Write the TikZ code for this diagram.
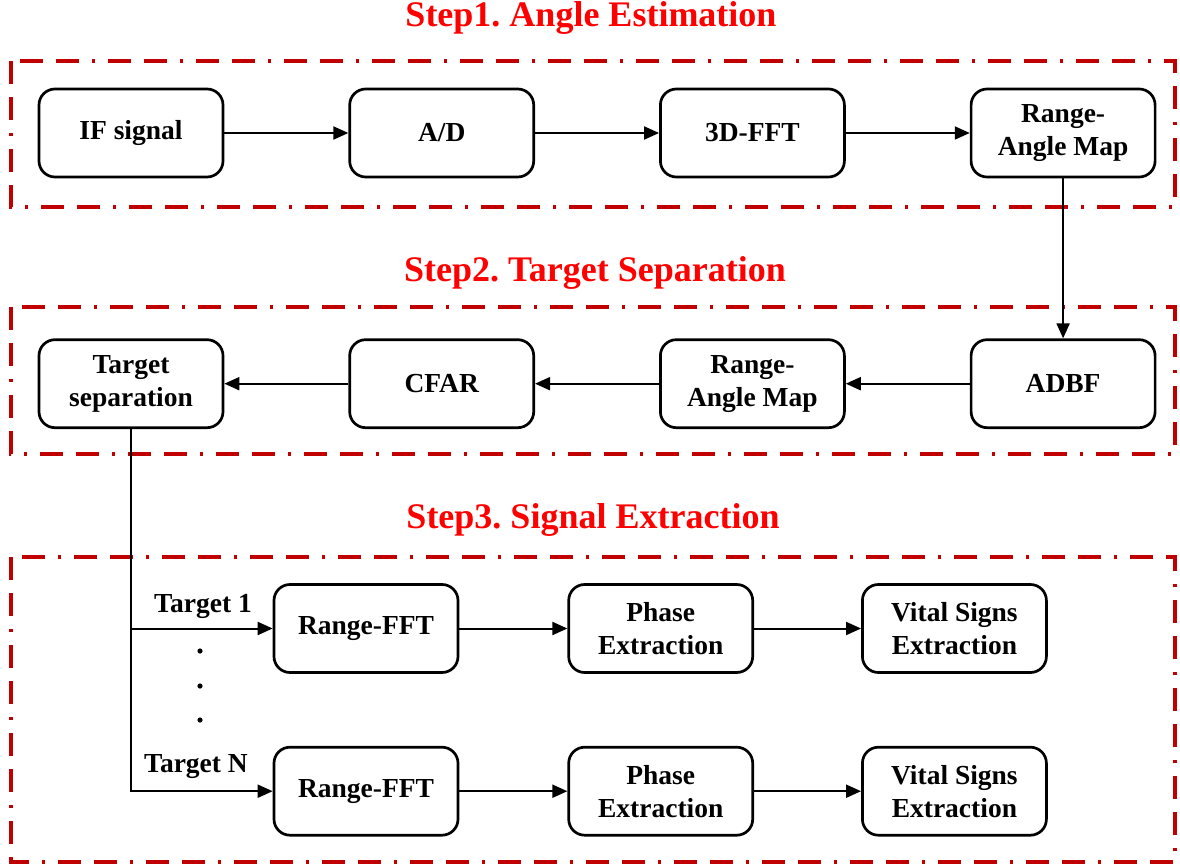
\documentclass[tikz,border=0pt]{standalone}
\usepackage{fontspec}
\setmainfont{Liberation Serif}
\usetikzlibrary{arrows.meta,positioning}
\definecolor{framered}{RGB}{192,0,0}
\definecolor{titlered}{RGB}{255,0,0}
\frenchspacing
\tikzset{
    %Define standard arrow tip
    >={Triangle[length=15pt,width=13pt]},
    blok/.style={
      rectangle,
      rounded corners=16pt,
      draw=black, line width=2.7pt,
      minimum width=184pt,
      minimum height=88pt,
      align=center,
      font=\fontsize{27.5}{33}\selectfont\bfseries},
    flow/.style={->, line width=2pt},
    stepframe/.style={
      draw=framered, line width=3.2pt,
      dash pattern=on 23pt off 13pt on 23pt off 13pt on 3pt off 13pt},
    steptitle/.style={
      text=titlered, anchor=base,
      font=\fontsize{36}{40}\selectfont\bfseries},
    tlabel/.style={
      anchor=base,
      font=\fontsize{27.5}{33}\selectfont\bfseries},
}
\begin{document}
\begin{tikzpicture}[x=1pt,y=-1pt,node distance=124pt]
    \useasboundingbox (0,0) rectangle (1180,866);
    % step frames and titles
    \draw [stepframe] (11,61) rectangle (1175,207);
    \draw [stepframe] (11,307) rectangle (1175,454);
    \draw [stepframe] (11,557) rectangle (1175,862);
    \node (title1) [steptitle] at (591,27) {Step1. Angle Estimation};
    \node (title2) [steptitle] at (595,282) {Step2. Target Separation};
    \node (title3) [steptitle] at (593,528) {Step3. Signal Extraction};

    % step 1
    \node (ifsig) [blok] at (131,133)
          {IF signal};
    \node (adc) [blok] [right=of ifsig]
          {A/D}
          edge [<-, line width=2pt] (ifsig);
    \node (fft3d) [blok] [right=of adc]
          {3D-FFT}
          edge [<-, line width=2pt] (adc);
    \node (ramap1) [blok] [right=of fft3d]
          {Range-\\Angle Map}
          edge [<-, line width=2pt] (fft3d);

    % step 2
    \node (adbf) [blok] [below=160pt of ramap1]
          {ADBF}
          edge [<-, line width=2pt] (ramap1);
    \node (ramap2) [blok] [left=of adbf]
          {Range-\\Angle Map}
          edge [<-, line width=2pt] (adbf);
    \node (cfar) [blok] [left=of ramap2]
          {CFAR}
          edge [<-, line width=2pt] (ramap2);
    \node (tsep) [blok] [left=of cfar]
          {Target\\separation}
          edge [<-, line width=2pt] (cfar);

    % step 3
    \node (rfft1) [blok] at (366,628.5)
          {Range-FFT};
    \node (phase1) [blok] [right=108pt of rfft1]
          {Phase\\Extraction}
          edge [<-, line width=2pt] (rfft1);
    \node (vital1) [blok] [right=107pt of phase1]
          {Vital Signs\\Extraction}
          edge [<-, line width=2pt] (phase1);
    \node (rfftN) [blok] [below=72pt of rfft1]
          {Range-FFT};
    \node (phaseN) [blok] [right=108pt of rfftN]
          {Phase\\Extraction}
          edge [<-, line width=2pt] (rfftN);
    \node (vitalN) [blok] [right=107pt of phaseN]
          {Vital Signs\\Extraction}
          edge [<-, line width=2pt] (phaseN);

    % targets
    \coordinate (split1) at (tsep.south |- rfft1.west);
    \draw [flow] (tsep.south) |- (rfftN.west);
    \draw [flow] (split1) -- (rfft1.west);
    \node (lbl1) [tlabel] at (203,612) {Target 1};
    \node (lblN) [tlabel] at (196,772) {Target N};
    \foreach \y in {651,686,720}
        \fill (200,\y) circle (2.6pt);
\end{tikzpicture}
\end{document}
